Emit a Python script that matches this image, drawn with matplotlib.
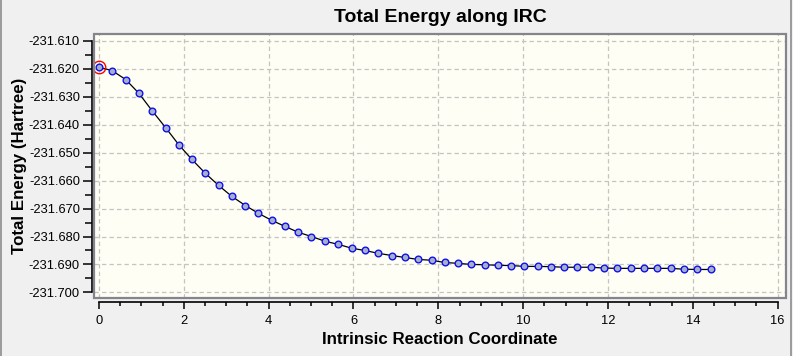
import matplotlib
matplotlib.use('Agg')
import matplotlib.pyplot as plt
from matplotlib.patches import Rectangle
from matplotlib.lines import Line2D
from matplotlib.ticker import MultipleLocator, FormatStrFormatter

plt.rcParams['font.family'] = ['Liberation Sans', 'DejaVu Sans']

# IRC path: reaction coordinate and total energy (Hartree)
coord = [0.00, 0.31, 0.63, 0.94, 1.25, 1.57, 1.88, 2.19, 2.51, 2.82,
         3.13, 3.45, 3.76, 4.07, 4.39, 4.70, 5.01, 5.33, 5.64, 5.96,
         6.27, 6.58, 6.90, 7.21, 7.52, 7.84, 8.15, 8.46, 8.78, 9.09,
         9.40, 9.72, 10.03, 10.34, 10.66, 10.97, 11.28, 11.60, 11.91, 12.22,
         12.54, 12.85, 13.16, 13.48, 13.79, 14.10, 14.42]
energy = [-231.6194, -231.6206, -231.6238, -231.6287, -231.6349, -231.6410,
          -231.6471, -231.6524, -231.6574, -231.6617, -231.6656, -231.6689,
          -231.6717, -231.6742, -231.6764, -231.6785, -231.6800, -231.6817,
          -231.6828, -231.6842, -231.6850, -231.6860, -231.6868, -231.6875,
          -231.6882, -231.6885, -231.6893, -231.6896, -231.6900, -231.6901,
          -231.6903, -231.6904, -231.6907, -231.6907, -231.6908, -231.6910,
          -231.6910, -231.6910, -231.6913, -231.6914, -231.6914, -231.6914,
          -231.6914, -231.6914, -231.6917, -231.6918, -231.6918]

fig = plt.figure(figsize=(7.93, 3.56), dpi=100, facecolor='#f0f0f0')
ax = fig.add_axes([0.1189, 0.1638, 0.8719, 0.7399])
ax.set_facecolor('#fefef4')

ax.plot(coord, energy, color='black', lw=0.9, marker='o', ms=4.8,
        mfc='#a8b0c8', mec='#1010f0', mew=1.0, zorder=3)
# highlighted current point
ax.plot(coord[0], energy[0], marker='o', ms=9, mfc='none', mec='red',
        mew=1.0, zorder=4)

ax.set_xlim(-0.11, 16.19)
ax.set_ylim(-231.7019, -231.6076)

ax.xaxis.set_major_locator(MultipleLocator(2))
ax.xaxis.set_minor_locator(MultipleLocator(0.5))
ax.yaxis.set_major_locator(MultipleLocator(0.01))
ax.yaxis.set_minor_locator(MultipleLocator(0.005))
ax.yaxis.set_major_formatter(FormatStrFormatter('%.3f'))

ax.grid(True, which='major', color='#c4c4c4', ls=(0, (3.5, 2.5)), lw=0.9)
ax.set_axisbelow(True)

for s in ['top', 'right']:
    ax.spines[s].set_visible(False)
ax.spines['left'].set_position(('outward', 2))
ax.spines['bottom'].set_position(('outward', 3))
ax.spines['left'].set_bounds(-231.700, -231.610)
ax.spines['bottom'].set_bounds(0, 16)
ax.spines['left'].set_linewidth(1.2)
ax.spines['bottom'].set_linewidth(1.2)

ax.tick_params(axis='y', which='major', length=6.8, width=1.1, labelsize=9.3, pad=1.5)
ax.tick_params(axis='y', which='minor', length=4.8, width=1.1)
ax.tick_params(axis='x', which='major', length=4.8, width=1.1, labelsize=9.3, pad=4.5)
ax.tick_params(axis='x', which='minor', length=3.1, width=1.1)

# gray plot frame
ax.add_patch(Rectangle((0, 0), 1, 1, transform=ax.transAxes, fill=False,
                       edgecolor='#84848c', lw=1.6, clip_on=False, zorder=5))

ax.set_title('Total Energy along IRC', fontsize=14, fontweight='bold', pad=9)
ax.set_xlabel('Intrinsic Reaction Coordinate', fontsize=12.2, fontweight='bold', labelpad=4)
ax.set_ylabel('Total Energy (Hartree)', fontsize=12.2, fontweight='bold', labelpad=1)

# window border lines
fig.add_artist(Line2D([0.001, 0.001], [0, 1], transform=fig.transFigure, color='#8c8c8c', lw=1.2))
fig.add_artist(Line2D([0.997, 0.997], [0, 1], transform=fig.transFigure, color='#8c8c8c', lw=1.2))

fig.savefig('out.png', dpi=100, facecolor=fig.get_facecolor())
